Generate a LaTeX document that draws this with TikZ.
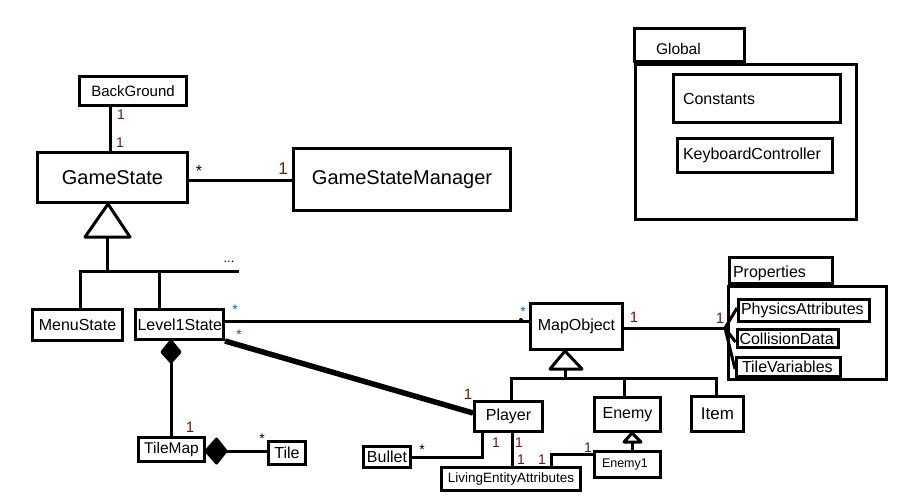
\documentclass[tikz,border=0pt]{standalone}
\usepackage{fontspec}
\setmainfont{Liberation Sans}
\definecolor{mred}{HTML}{5C1F10}
\definecolor{mblue}{HTML}{1F5A96}
\begin{document}
\begin{tikzpicture}[x=1pt,y=-1pt,
  conn/.style={line width=3pt},
  cls/.style n args={3}{draw,line width=3pt,inner sep=0pt,minimum width=#1pt,minimum height=#2pt,font=\fontsize{#3}{#3}\selectfont},
  lcls/.style n args={4}{draw,line width=3pt,inner ysep=0pt,inner xsep=#3pt,text width=#1pt,minimum height=#2pt,align=left,font=\fontsize{#4}{#4}\selectfont},
  mul/.style={inner sep=0pt,text=mred,font=\fontsize{#1}{#1}\selectfont},
  star/.style={inner sep=0pt,text=mblue,font=\fontsize{#1}{#1}\selectfont},
  pkg/.style n args={2}{draw,line width=3pt,inner sep=0pt,minimum width=#1pt,minimum height=#2pt},
]
\fill[white] (0,0) rectangle (918,501);
\useasboundingbox (0,0) rectangle (918,501);

% classes
\node[cls={107}{29}{15}] (bg) at (133,91) {BackGround};
\node[cls={150}{50}{20}] (gs) at (112.5,177.5) {GameState};
\node[cls={217}{62}{20}] (gsm) at (402,179.5) {GameStateManager};
\node[cls={90}{31}{16}] (ms) at (77.5,325) {MenuState};
\node[lcls={84}{30}{2}{16}] (l1) at (179.5,324.5) {Level1State};
\node[cls={66}{24}{15.5}] (tm) at (171.5,449.5) {TileMap};
\node[cls={37}{23}{16}] (tile) at (287,453) {Tile};
\node[cls={47}{21}{16}] (bu) at (387,457) {Bullet};
\node[cls={68}{30}{16}] (pl) at (508.5,416.5) {Player};
\node[cls={66}{34}{16}] (en) at (627.5,414.5) {Enemy};
\node[cls={52}{35}{17}] (it) at (717.5,414) {Item};
\node[lcls={51}{26}{7.5}{12.5}] (e1) at (627.5,464.5) {Enemy1};
\node[cls={139}{23}{13.5}] (lea) at (511,479) {LivingEntityAttributes};
\node[cls={92}{46}{16}] (mo) at (576.5,326.5) {MapObject};

% Properties package
\node[pkg={158}{93}] (prb) at (807.5,333) {};
\node[lcls={96}{26}{3.5}{16},text height=14pt,text depth=0pt] (prt) at (781,270.5) {Properties};
\node[lcls={126}{22}{2.5}{16}] (pa) at (804,310.5) {PhysicsAttributes};
\node[lcls={96}{18}{2.5}{16}] (cd) at (787.5,338.5) {CollisionData};
\node[lcls={93}{19}{5.5}{16}] (tv) at (788.5,367) {TileVariables};

% Global package
\node[pkg={221}{155}] (glb) at (746,142) {};
\node[lcls={67}{33}{21.5}{15.5},text height=19pt,text depth=0pt] (glt) at (689.5,45) {Global};
\node[lcls={148}{48}{9.5}{16}] (con) at (757,98.5) {Constants};
\node[lcls={144}{34}{5.5}{16}] (kc) at (755,155.5) {KeyboardController};

% BackGround - GameState
\draw[conn] (bg.south -| 110,0) -- (gs.north -| 110,0);
\node[mul=14] (m1) at (121,115) {1};
\node[mul=14] (m2) at (120,143) {1};

% GameState - GameStateManager
\draw[conn] (gs.east |- 0,180) -- (gsm.west |- 0,180);
\node[star=16,text=black] (s1) at (199,171) {*};
\node[mul=17] (m3) at (283,169) {1};

% generalization of GameState
\draw[conn,fill=white,line join=round] (gs.south -| 108,0) -- (85,237) -- (130,237) -- cycle;
\coordinate (g1) at (107,271);
\draw[conn] (107,237) -- (g1);
\draw[conn] (78.5,271) -- (239,271);
\draw[conn] (80,271) -- (ms.north -| 80,0);
\draw[conn] (159,271) -- (l1.north -| 159,0);
\node[inner sep=0pt,font=\fontsize{13}{13}\selectfont] (dots) at (229,262) {...};

% Level1State - MapObject
\draw[conn] (l1.east |- 0,321.5) -- (mo.west |- 0,321.5);
\fill (521,320) circle (2pt);
\node[star=14] (s2) at (235,310) {*};
\node[star=14] (s3) at (239,335) {*};
\node[star=14] (s4) at (523,312) {*};

% Level1State - Player (thick)
\draw[line width=5.5pt] (l1.south east) -- (pl.west |- 0,413);
\node[mul=15] (m4) at (468,394) {1};

% Level1State composition TileMap
\draw[conn,fill=black,line join=round] (l1.south -| 171,0) -- (162,352) -- (171,362) -- (180,352) -- cycle;
\draw[conn] (171,362) -- (tm.north -| 171,0);
\node[mul=15] (m5) at (190,427) {1};

% TileMap composition Tile
\draw[conn,fill=black,line join=round] (tm.east |- 0,451) -- (216.5,439) -- (226,451) -- (216.5,463) -- cycle;
\draw[conn] (226,451) -- (tile.west |- 0,451);
\node[star=14,text=black] (s5) at (262,439) {*};

% Player - Bullet
\draw[conn] (pl.south -| 482,0) |- (bu.east |- 0,457);
\node[mul=14] (m6) at (496,443) {1};
\node[star=14,text=black] (s6) at (422,450) {*};

% Player - LivingEntityAttributes
\draw[conn] (pl.south -| 512,0) -- (lea.north -| 512,0);
\node[mul=14] (m7) at (519,443) {1};
\node[mul=14] (m8) at (521,460) {1};

% Enemy1 - LivingEntityAttributes
\draw[conn] (e1.west |- 0,454) -| (lea.north -| 551,0);
\node[mul=14] (m9) at (542,460) {1};
\node[mul=14] (m10) at (588,448) {1};

% generalization of MapObject
\draw[conn,fill=white,line join=round] (mo.south -| 565,0) -- (550,369) -- (582,369) -- cycle;
\draw[conn] (565,369) -- (565,378);
\draw[conn] (509.5,378) -- (717.5,378);
\draw[conn] (511,378) -- (pl.north -| 511,0);
\draw[conn] (624,378) -- (en.north -| 624,0);
\draw[conn] (716,378) -- (it.north -| 716,0);

% Enemy1 -> Enemy
\draw[conn,fill=white,line join=round] (en.south -| 632,0) -- (624,442) -- (641,442) -- cycle;
\draw[conn] (632,442) -- (e1.north -| 632,0);

% MapObject - Properties
\coordinate (j) at (725,328);
\draw[conn] (mo.east |- 0,328) -- (j);
\draw[conn] (j) -- (pa.west |- 0,308);
\draw[conn] (j) -- (cd.west |- 0,342);
\draw[conn] (j) -- (tv.west |- 0,369);
\node[mul=15] (m11) at (634,317) {1};
\node[mul=15] (m12) at (720,318) {1};
\end{tikzpicture}
\end{document}
